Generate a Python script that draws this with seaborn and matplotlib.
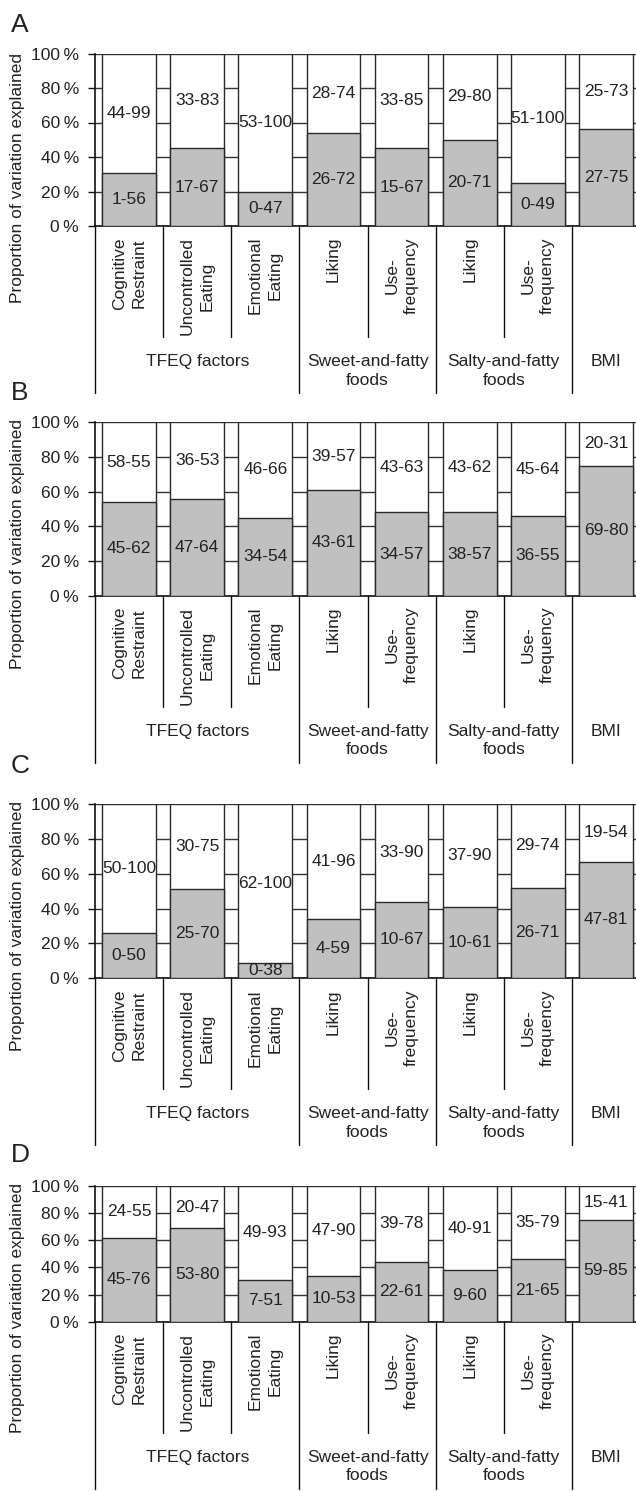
import matplotlib
matplotlib.use("Agg")
import matplotlib.pyplot as plt
import seaborn as sns
import pandas as pd
from matplotlib.transforms import blended_transform_factory
from matplotlib.ticker import FuncFormatter

# ---------------- data ----------------
categories = ["Cognitive\nRestraint", "Uncontrolled\nEating", "Emotional\nEating",
              "Liking", "Use-\nfrequency", "Liking", "Use-\nfrequency", ""]
group_names = ["TFEQ factors", "Sweet-and-fatty\nfoods", "Salty-and-fatty\nfoods", "BMI"]
group_start = [0, 3, 5, 7]
group_end = [3, 5, 7, 8]
panel_letters = ["A", "B", "C", "D"]
yticks = [0, 20, 40, 60, 80, 100]

gray_A = [31, 45, 20, 54, 45, 50, 25, 56]
gray_B = [54, 56, 45, 61, 48, 48, 46, 75]
gray_C = [26, 51, 9, 34, 44, 41, 52, 67]
gray_D = [62, 69, 31, 34, 44, 38, 46, 75]

low_lab_A = ["1-56", "17-67", "0-47", "26-72", "15-67", "20-71", "0-49", "27-75"]
up_lab_A = ["44-99", "33-83", "53-100", "28-74", "33-85", "29-80", "51-100", "25-73"]
low_lab_B = ["45-62", "47-64", "34-54", "43-61", "34-57", "38-57", "36-55", "69-80"]
up_lab_B = ["58-55", "36-53", "46-66", "39-57", "43-63", "43-62", "45-64", "20-31"]
low_lab_C = ["0-50", "25-70", "0-38", "4-59", "10-67", "10-61", "26-71", "47-81"]
up_lab_C = ["50-100", "30-75", "62-100", "41-96", "33-90", "37-90", "29-74", "19-54"]
low_lab_D = ["45-76", "53-80", "7-51", "10-53", "22-61", "9-60", "21-65", "59-85"]
up_lab_D = ["24-55", "20-47", "49-93", "47-90", "39-78", "40-91", "35-79", "15-41"]

grays = [gray_A, gray_B, gray_C, gray_D]
low_labels = [low_lab_A, low_lab_B, low_lab_C, low_lab_D]
up_labels = [up_lab_A, up_lab_B, up_lab_C, up_lab_D]

# ---------------- layout (pixels) ----------------
W, H = 636, 1491
DPI = 100
ax_left_px, ax_right_px = 95, 640
panel_top = [53.5, 422.3, 804.0, 1186.0]
panel_bot = [226.0, 595.7, 978.3, 1321.7]
letter_base = [32, 400, 773, 1162]
ylabel_center = [178, 544, 926, 1308]

sns.set_theme(style="white")
plt.rcParams["font.family"] = ["Liberation Sans", "DejaVu Sans"]
FS = 12.5
plt.rcParams["font.size"] = FS

TXT = "#222222"
EDGE = "#2a2a2a"
GRAY = "#c0c0c0"

fig = plt.figure(figsize=(W / DPI, H / DPI), dpi=DPI)
fig.patch.set_facecolor("white")

def fy(ypx):
    return 1 - ypx / H

ids = [f"c{i}" for i in range(len(categories))]

for p in range(4):
    top, bot = panel_top[p], panel_bot[p]
    ax = fig.add_axes([ax_left_px / W, fy(bot), (ax_right_px - ax_left_px) / W, (bot - top) / H])
    ax.set_facecolor("white")
    df = pd.DataFrame({"cat": ids, "total": [100] * len(ids), "gray": grays[p]})
    sns.barplot(data=df, x="cat", y="total", order=ids, color="white", edgecolor=EDGE,
                linewidth=1.0, width=0.79, saturation=1, ax=ax, zorder=3)
    sns.barplot(data=df, x="cat", y="gray", order=ids, color=GRAY, edgecolor=EDGE,
                linewidth=1.0, width=0.79, saturation=1, ax=ax, zorder=4)
    ax.set_xlim(-0.5, 7.5)
    ax.set_ylim(0, 100)
    ax.set_yticks(yticks)
    ax.yaxis.set_major_formatter(FuncFormatter(lambda v, _: f"{int(v)}\u2009%"))
    ax.set_axisbelow(True)
    ax.yaxis.grid(True, color="#333333", linewidth=1.0, zorder=0)
    ax.xaxis.grid(False)
    ax.set_xlabel("")
    ax.set_ylabel("")
    ax.set_xticks([])
    for s in ["top", "right"]:
        ax.spines[s].set_visible(False)
    for s in ["left", "bottom"]:
        ax.spines[s].set_color("#111111")
        ax.spines[s].set_linewidth(1.2)
    ax.tick_params(axis="y", which="major", direction="out", length=5, width=1,
                   color="#111111", pad=6.5, labelsize=FS, labelcolor=TXT, left=True)

    # data labels centred in each segment
    g = grays[p]
    for i in range(len(ids)):
        ax.text(i, g[i] / 2, low_labels[p][i], ha="center", va="center",
                fontsize=FS, color=TXT, zorder=6)
        ax.text(i, (g[i] + 100) / 2, up_labels[p][i], ha="center", va="center",
                fontsize=FS, color=TXT, zorder=6)

    tr = blended_transform_factory(ax.transData, fig.transFigure)
    # category labels
    for i, c in enumerate(categories):
        if c:
            ax.text(i, fy(bot + 11), c, transform=tr, rotation=90, ha="center", va="top",
                    multialignment="center", linespacing=1.4, fontsize=FS, color=TXT)
    # minor separators
    group_bounds = set(s - 0.5 for s in group_start) | {7.5}
    for k in range(1, 8):
        xb = k - 0.5
        if xb not in group_bounds:
            ax.plot([xb, xb], [fy(bot), fy(bot + 111)], transform=tr, color="#111111",
                    lw=1.0, clip_on=False)
    # group separators
    long_end = min(bot + 167, H + 2)
    for xb in sorted(group_bounds):
        ax.plot([xb, xb], [fy(bot), fy(long_end)], transform=tr, color="#111111",
                lw=1.0, clip_on=False)
    # group labels
    for name, s0, s1 in zip(group_names, group_start, group_end):
        ax.text((s0 + s1 - 1) / 2, fy(bot + 128), name, transform=tr, ha="center",
                va="top", multialignment="center", linespacing=1.3, fontsize=FS, color=TXT)

    # y label and panel letter
    fig.text(17.5 / W, fy(ylabel_center[p]), "Proportion of variation explained",
             rotation=90, ha="center", va="center", fontsize=FS, color=TXT)
    fig.text(11 / W, fy(letter_base[p]), panel_letters[p], ha="left", va="baseline",
             fontsize=19, color=TXT)

fig.savefig("out.png", dpi=DPI, facecolor="white")
